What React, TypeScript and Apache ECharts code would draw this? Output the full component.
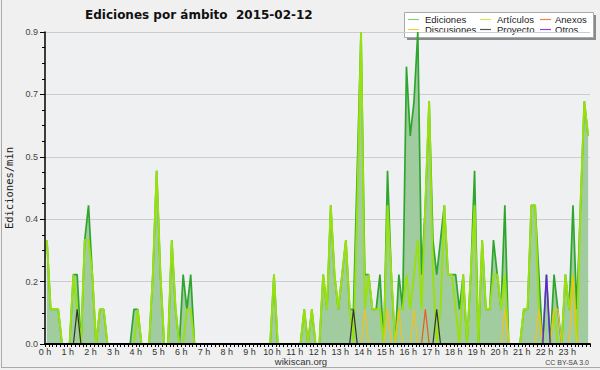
import React, { useEffect, useRef } from 'react';
import * as echarts from 'echarts';

// 10-minute buckets, 6 per hour, 144 per day
const HOUR_LABELS = ['0 h','1 h','2 h','3 h','4 h','5 h','6 h','7 h','8 h','9 h','10 h','11 h','12 h','13 h','14 h','15 h','16 h','17 h','18 h','19 h','20 h','21 h','22 h','23 h'];
const Y_TICK_LABELS = ['0.0', '0.2', '0.4', '0.5', '0.7', '0.9'];
const BUCKETS_PER_HOUR = 6;
const TOTAL_BUCKETS = 144;

const EDICIONES = [
  0.3,0.1,0.1,0.1,0,0,0,0.2,0.2,0,0.3,0.4,
  0.2,0,0.1,0.1,0,0,0,0,0,0,0,0.1,
  0.1,0,0,0,0.2,0.5,0.2,0,0,0.3,0.1,0,
  0.2,0.1,0.2,0,0,0,0,0,0,0,0,0,
  0,0,0,0,0,0,0,0,0,0,0,0,
  0.2,0,0,0,0,0,0,0,0.1,0,0.1,0,
  0,0.2,0.1,0.4,0.2,0.1,0.2,0.3,0.1,0.1,0.5,0.9,
  0.2,0.2,0.1,0.1,0.2,0,0.5,0.2,0,0.2,0.1,0.8,
  0.6,0.7,0.9,0.2,0.4,0.7,0.3,0.2,0.3,0.4,0.2,0.2,
  0.2,0.1,0.2,0,0.2,0.5,0,0.3,0.1,0.1,0.3,0.2,
  0.1,0.4,0,0,0,0,0.1,0.1,0.4,0.4,0.2,0,
  0.2,0,0.2,0.1,0,0.2,0.1,0.4,0.1,0.4,0.7,0.6,
];
const ARTICULOS = [
  0.3,0.1,0.1,0.1,0,0,0,0.2,0.1,0,0.3,0.3,
  0.2,0,0.1,0.1,0,0,0,0,0,0,0,0,
  0.1,0,0,0,0.2,0.5,0.2,0,0,0.3,0.1,0,
  0,0.1,0.1,0,0,0,0,0,0,0,0,0,
  0,0,0,0,0,0,0,0,0,0,0,0,
  0.2,0,0,0,0,0,0,0,0.1,0,0.1,0,
  0,0.2,0.1,0.4,0.2,0.1,0.2,0.3,0.1,0,0.4,0.9,
  0.1,0.2,0.1,0.1,0.1,0,0.4,0.2,0,0.1,0.1,0.2,
  0.1,0.2,0.3,0.1,0.4,0.7,0.2,0,0.1,0.4,0.2,0.2,
  0.1,0,0.2,0,0.2,0.4,0,0.3,0.1,0.1,0.2,0.2,
  0.1,0.2,0,0,0,0,0.1,0.1,0.4,0.4,0.1,0,
  0,0,0.1,0,0,0.2,0.1,0.2,0,0.4,0.7,0.6,
];
const ANEXOS = [
  0,0,0,0,0,0,0,0,0,0,0,0,
  0,0,0,0,0,0,0,0,0,0,0,0,
  0,0,0,0,0,0,0,0,0,0,0,0,
  0,0,0,0,0,0,0,0,0,0,0,0,
  0,0,0,0,0,0,0,0,0,0,0,0,
  0,0,0,0,0,0,0,0,0,0,0,0,
  0,0,0,0,0,0,0,0,0,0,0,0,
  0,0,0,0,0,0,0,0,0,0,0,0,
  0,0,0,0,0.1,0,0,0,0,0,0,0,
  0,0,0,0,0,0,0,0,0,0,0,0,
  0,0,0,0,0,0,0,0,0,0,0,0,
  0,0,0,0,0,0,0,0,0,0,0,0,
];
const DISCUSIONES = [
  0,0,0,0,0,0,0,0,0,0,0,0,
  0,0,0,0,0,0,0,0,0,0,0,0,
  0,0,0,0,0,0,0,0,0,0,0,0,
  0,0,0,0,0,0,0,0,0,0,0,0,
  0,0,0,0,0,0,0,0,0,0,0,0,
  0,0,0,0,0,0,0,0,0,0,0,0,
  0,0,0,0,0,0,0,0,0,0,0,0,
  0.1,0,0,0,0,0,0.1,0,0,0.1,0,0,
  0,0.1,0,0,0,0,0,0,0,0,0,0,
  0,0,0,0,0,0,0,0,0,0,0,0,
  0,0.1,0,0,0,0,0,0,0,0,0.1,0,
  0,0,0.1,0.1,0,0,0,0.2,0,0,0,0,
];
const PROYECTO = [
  0,0,0,0,0,0,0,0,0.1,0,0,0,
  0,0,0,0,0,0,0,0,0,0,0,0,
  0,0,0,0,0,0,0,0,0,0,0,0,
  0,0,0,0,0,0,0,0,0,0,0,0,
  0,0,0,0,0,0,0,0,0,0,0,0,
  0,0,0,0,0,0,0,0,0,0,0,0,
  0,0,0,0,0,0,0,0,0,0.1,0,0,
  0,0,0,0,0,0,0,0,0,0,0,0,
  0,0,0,0,0,0,0,0.1,0,0,0,0,
  0,0,0,0,0,0,0,0,0,0,0,0,
  0,0,0,0,0,0,0,0,0,0,0,0,
  0,0,0,0,0,0,0,0,0,0,0,0,
];
const OTROS = [
  0,0,0,0,0,0,0,0,0,0,0,0,
  0,0,0,0,0,0,0,0,0,0,0,0,
  0,0,0,0,0,0,0,0,0,0,0,0,
  0,0,0,0,0,0,0,0,0,0,0,0,
  0,0,0,0,0,0,0,0,0,0,0,0,
  0,0,0,0,0,0,0,0,0,0,0,0,
  0,0,0,0,0,0,0,0,0,0,0,0,
  0,0,0,0,0,0,0,0,0,0,0,0,
  0,0,0,0,0,0,0,0,0,0,0,0,
  0,0,0,0,0,0,0,0,0,0,0,0,
  0,0,0,0,0,0,0,0,0,0,0,0,
  0.2,0,0,0,0,0,0,0,0,0,0,0,
];

const LEGEND_ROWS = [
  ['Ediciones', 'Artículos', 'Anexos'],
  ['Discusiones', 'Proyecto', 'Otros'],
];
const LEGEND_COLORS: Record<string, string> = {
  Ediciones: '#8acb8a',
  Artículos: '#c8ec5a',
  Anexos: '#ee8050',
  Discusiones: '#f8cc40',
  Proyecto: '#555555',
  Otros: '#9040ee',
};
const TITLE = 'Ediciones por ámbito  2015-02-12';
const Y_NAME = 'Ediciones/min';
const SITE = 'wikiscan.org';
const LICENSE = 'CC BY-SA 3.0';

const FONT = "'DejaVu Sans', sans-serif";
const SMALL_FONT = "'Liberation Sans', Arial, sans-serif";

function toPoints(values: number[]) {
  return values.map((v, i) => [i + 0.5, v]);
}

function lineSeries(name: string, values: number[], color: string, width: number, z: number) {
  return {
    name,
    type: 'line',
    data: toPoints(values),
    showSymbol: false,
    symbol: 'none',
    z,
    lineStyle: { color, width },
    itemStyle: { color },
  };
}

export default function App() {
  const ref = useRef<HTMLDivElement>(null);
  useEffect(() => {
    if (!ref.current) return;
    const chart = echarts.init(ref.current, undefined, { renderer: 'svg' });

    const legendX = [408, 480, 540];
    const legendTextX = [425, 497, 555];
    const legendY = [19, 29];
    const legendEls: any[] = [
      { type: 'rect', shape: { x: 407, y: 15, width: 189, height: 25 }, style: { fill: '#8a8a8a' } },
      { type: 'rect', shape: { x: 404.5, y: 12.5, width: 189, height: 25 }, style: { fill: '#ffffff', stroke: '#aaaaaa', lineWidth: 1 } },
    ];
    LEGEND_ROWS.forEach((row, r) => {
      row.forEach((name, c) => {
        legendEls.push({
          type: 'line',
          shape: { x1: legendX[c], y1: legendY[r] + 0.5, x2: legendX[c] + 11, y2: legendY[r] + 0.5 },
          style: { stroke: LEGEND_COLORS[name], lineWidth: 1.2 },
        });
        legendEls.push({
          type: 'text',
          x: legendTextX[c],
          y: legendY[r],
          style: { text: name, fill: '#222', font: `9.5px ${SMALL_FONT}`, verticalAlign: 'middle', align: 'left' },
        });
      });
    });

    const option: any = {
      animation: false,
      backgroundColor: '#f0f0f0',
      textStyle: { fontFamily: SMALL_FONT },
      grid: {
        left: 45, right: 10, top: 32, bottom: 26,
        outerBoundsMode: 'none',
        containLabel: false,
        show: true, backgroundColor: '#eef0f2', borderWidth: 0,
      },
      xAxis: {
        type: 'value',
        min: 0,
        max: TOTAL_BUCKETS,
        interval: BUCKETS_PER_HOUR,
        z: 6,
        axisLine: { show: true, lineStyle: { color: '#000', width: 2 } },
        axisTick: { show: true, length: 3, lineStyle: { color: '#000', width: 1 } },
        minorTick: { show: true, splitNumber: BUCKETS_PER_HOUR, length: 3, lineStyle: { color: '#000', width: 1 } },
        axisLabel: {
          margin: 3,
          fontSize: 9,
          fontFamily: SMALL_FONT,
          color: '#333',
          formatter: (v: number) => HOUR_LABELS[Math.round(v / BUCKETS_PER_HOUR)] ?? '',
        },
        splitLine: { show: false },
      },
      yAxis: {
        type: 'value',
        min: 0,
        max: 0.9,
        interval: 0.18,
        name: Y_NAME,
        nameLocation: 'middle',
        nameGap: 30,
        nameTextStyle: { fontFamily: "'DejaVu Sans Mono', monospace", fontSize: 10.5, color: '#222' },
        axisLine: { show: true, lineStyle: { color: '#000', width: 1.5 } },
        axisTick: { show: true, length: 5, lineStyle: { color: '#000', width: 1 } },
        minorTick: { show: true, splitNumber: 4, length: 3, lineStyle: { color: '#000', width: 1 } },
        axisLabel: {
          margin: 7,
          fontSize: 9,
          fontFamily: SMALL_FONT,
          color: '#444',
          formatter: (v: number) => Y_TICK_LABELS[Math.round(v / 0.18)] ?? '',
        },
        splitLine: { show: true, lineStyle: { color: '#cccccc', width: 1 } },
      },
      series: [
        {
          name: 'Ediciones',
          type: 'line',
          data: toPoints(EDICIONES),
          showSymbol: false,
          symbol: 'none',
          z: 2,
          lineStyle: { color: '#2ea62e', width: 1.7 },
          itemStyle: { color: '#2ea62e' },
          areaStyle: { color: '#a0cca0', opacity: 1 },
        },
        lineSeries('Artículos', ARTICULOS, '#99e010', 2, 3),
        lineSeries('Discusiones', DISCUSIONES, '#f5c020', 1.2, 4),
        lineSeries('Anexos', ANEXOS, '#ee5a20', 1.2, 4),
        lineSeries('Proyecto', PROYECTO, '#333333', 1.2, 4),
        lineSeries('Otros', OTROS, '#6a20e0', 1.4, 4),
      ],
      graphic: [
        { type: 'line', shape: { x1: 1.5, y1: 0, x2: 1.5, y2: 367.5 }, style: { stroke: '#aaaaaa', lineWidth: 1 } },
        { type: 'line', shape: { x1: 1, y1: 367.5, x2: 600, y2: 367.5 }, style: { stroke: '#aaaaaa', lineWidth: 1 } },
        {
          type: 'text', x: 85, y: 15,
          style: { text: TITLE, fill: '#111', font: `bold 12px ${FONT}`, verticalAlign: 'middle', align: 'left' },
        },
        {
          type: 'text', x: 301, y: 361,
          style: { text: SITE, fill: '#333', font: `9.5px ${SMALL_FONT}`, verticalAlign: 'middle', align: 'center' },
        },
        {
          type: 'text', x: 589, y: 362,
          style: { text: LICENSE, fill: '#444', font: `7px ${SMALL_FONT}`, verticalAlign: 'middle', align: 'right' },
        },
        ...legendEls,
      ],
    };
    chart.setOption(option);
    return () => chart.dispose();
  }, []);
  return <div ref={ref} style={{ position: 'fixed', left: 0, top: 0, width: 600, height: 370 }} />;
}
